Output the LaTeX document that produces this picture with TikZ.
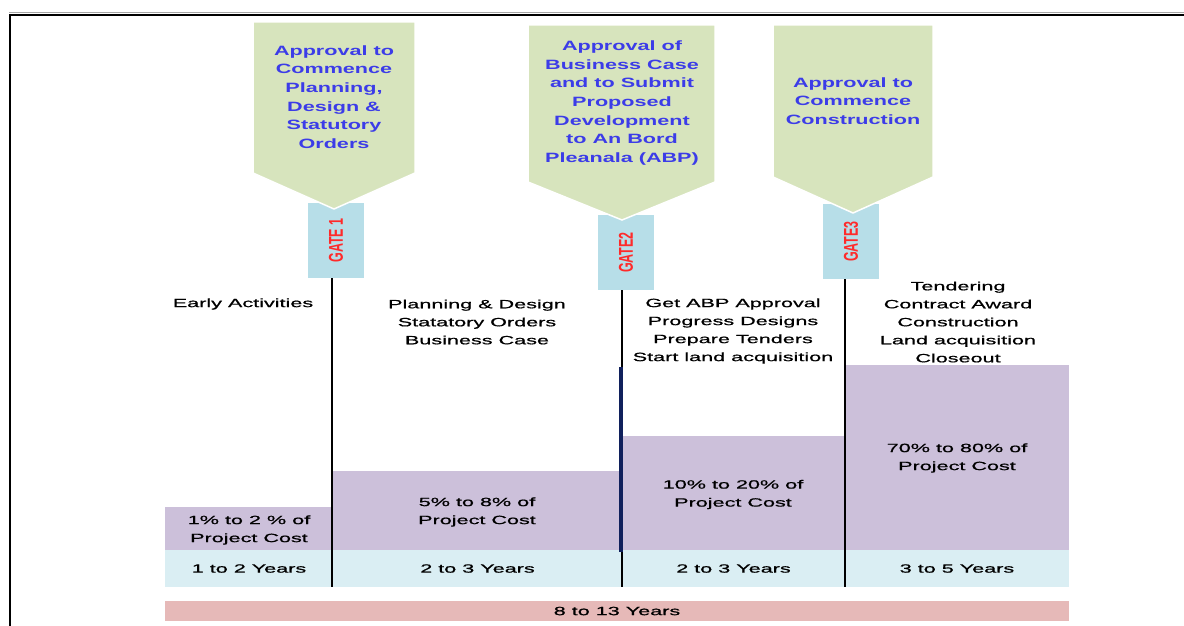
\documentclass[tikz,border=0pt]{standalone}
\usepackage{fontspec}
\setmainfont{Liberation Sans}
\newfontfamily\widefont[FakeStretch=1.8, FakeBold=0.8]{Liberation Sans}
\newfontfamily\approvalfont[FakeStretch=1.6]{Liberation Sans}
\usetikzlibrary{positioning}

\definecolor{gatefill}{HTML}{D7E4BD}
\definecolor{tagfill}{HTML}{B7DEE8}
\definecolor{costfill}{HTML}{CCC0DA}
\definecolor{yearfill}{HTML}{DAEEF3}
\definecolor{totalfill}{HTML}{E6B9B8}
\definecolor{approvalblue}{HTML}{3C3CE8}
\definecolor{tagred}{HTML}{FF2A2A}
\definecolor{navyline}{HTML}{10205C}

\tikzset{
  approval/.style={fill=gatefill, draw=white, line width=1.5pt},
  approvaltext/.style={align=center, text=approvalblue, font=\approvalfont\bfseries\fontsize{13.5}{18.6}\selectfont},
  tagbox/.style={fill=tagfill, minimum width=56pt, minimum height=75pt},
  taglabel/.style={text=tagred, font=\bfseries\fontsize{12.5}{14}\selectfont, xscale=1.6, rotate=90},
  phase/.style={align=center, font=\widefont\fontsize{12}{18}\selectfont},
  yearcell/.style={phase, fill=yearfill, minimum height=37pt},
  divider/.style={line width=1.6pt},
}

\begin{document}
\begin{tikzpicture}[x=1pt, y=-1pt, every node/.style={inner sep=0pt}]
\useasboundingbox (0,0) rectangle (1184,626);

% frame
\draw[black!35, line width=1pt] (9,12.5) -- (1184,12.5);
\draw[line width=2pt] (9,15) -- (1184,15);
\draw[line width=2pt] (10,14) -- (10,626);

% gate tags (under the approval boxes)
\node[tagbox] (tagA) at (336,240.5) {};
\node[tagbox] (tagB) at (626,252.5) {};
\node[tagbox] (tagC) at (851,241.5) {};
\node[taglabel] (gateA) at (tagA) {GATE 1};
\node[taglabel] (gateB) at (tagB) {GATE2};
\node[taglabel] (gateC) at (tagC) {GATE3};

% approval boxes
\draw[approval] (253,22) -- (415,22) -- (415,173) -- (334,209) -- (253,173) -- cycle;
\draw[approval] (528,25) -- (715,25) -- (715,182) -- (622,220) -- (528,182) -- cycle;
\draw[approval] (773,25) -- (933,25) -- (933,177) -- (853,213) -- (773,177) -- cycle;
\node[approvaltext] (appA) at (334,97) {Approval to\\Commence\\Planning,\\Design \&\\Statutory\\Orders};
\node[approvaltext] (appB) at (622,103) {Approval of\\Business Case\\and to Submit\\Proposed\\Development\\to An Bord\\Pleanala (ABP)};
\node[approvaltext] (appC) at (853,101) {Approval to\\Commence\\Construction};

% cost bars
\fill[costfill] (165,507) rectangle (333,550);
\fill[costfill] (333,471) rectangle (622,550);
\fill[costfill] (622,436) rectangle (845,550);
\fill[costfill] (845,365) rectangle (1069,550);

% duration row
\node[yearcell, minimum width=168pt] (yearA) at (249,568.5) {1 to 2 Years};
\node[yearcell, minimum width=289pt] (yearB) at (477.5,568.5) {2 to 3 Years};
\node[yearcell, minimum width=223pt] (yearC) at (733.5,568.5) {2 to 3 Years};
\node[yearcell, minimum width=224pt] (yearD) at (957,568.5) {3 to 5 Years};
\node[phase, fill=totalfill, minimum width=904pt, minimum height=20pt] (total) at (617,611) {8 to 13 Years};

% dividers
\coordinate (divA) at (332,587);
\coordinate (divB) at (622,587);
\coordinate (divC) at (845,587);
\draw[divider] (tagA.south -| divA) -- (divA);
\draw[divider] (tagB.south -| divB) -- (divB);
\draw[divider] (tagC.south -| divC) -- (divC);
\draw[navyline, line width=3.5pt] (621,367) -- (621,552);

% phase activities
\node[phase] (early) at (243,304) {Early Activities};
\node[phase] (planning) at (477,322) {Planning \& Design\\Statatory Orders\\Business Case};
\node[phase] (abp) at (733,331) {Get ABP Approval\\Progress Designs\\Prepare Tenders\\Start land acquisition};
\node[phase] (tendering) at (958,322) {Tendering\\Contract Award\\Construction\\Land acquisition\\Closeout};

% share of project cost
\node[phase] (costA) at (249,530) {1\% to 2 \% of\\Project Cost};
\node[phase] (costB) at (477,512) {5\% to 8\% of\\Project Cost};
\node[phase] (costC) at (733,494.5) {10\% to 20\% of\\Project Cost};
\node[phase] (costD) at (957,458) {70\% to 80\% of\\Project Cost};
\end{tikzpicture}
\end{document}
